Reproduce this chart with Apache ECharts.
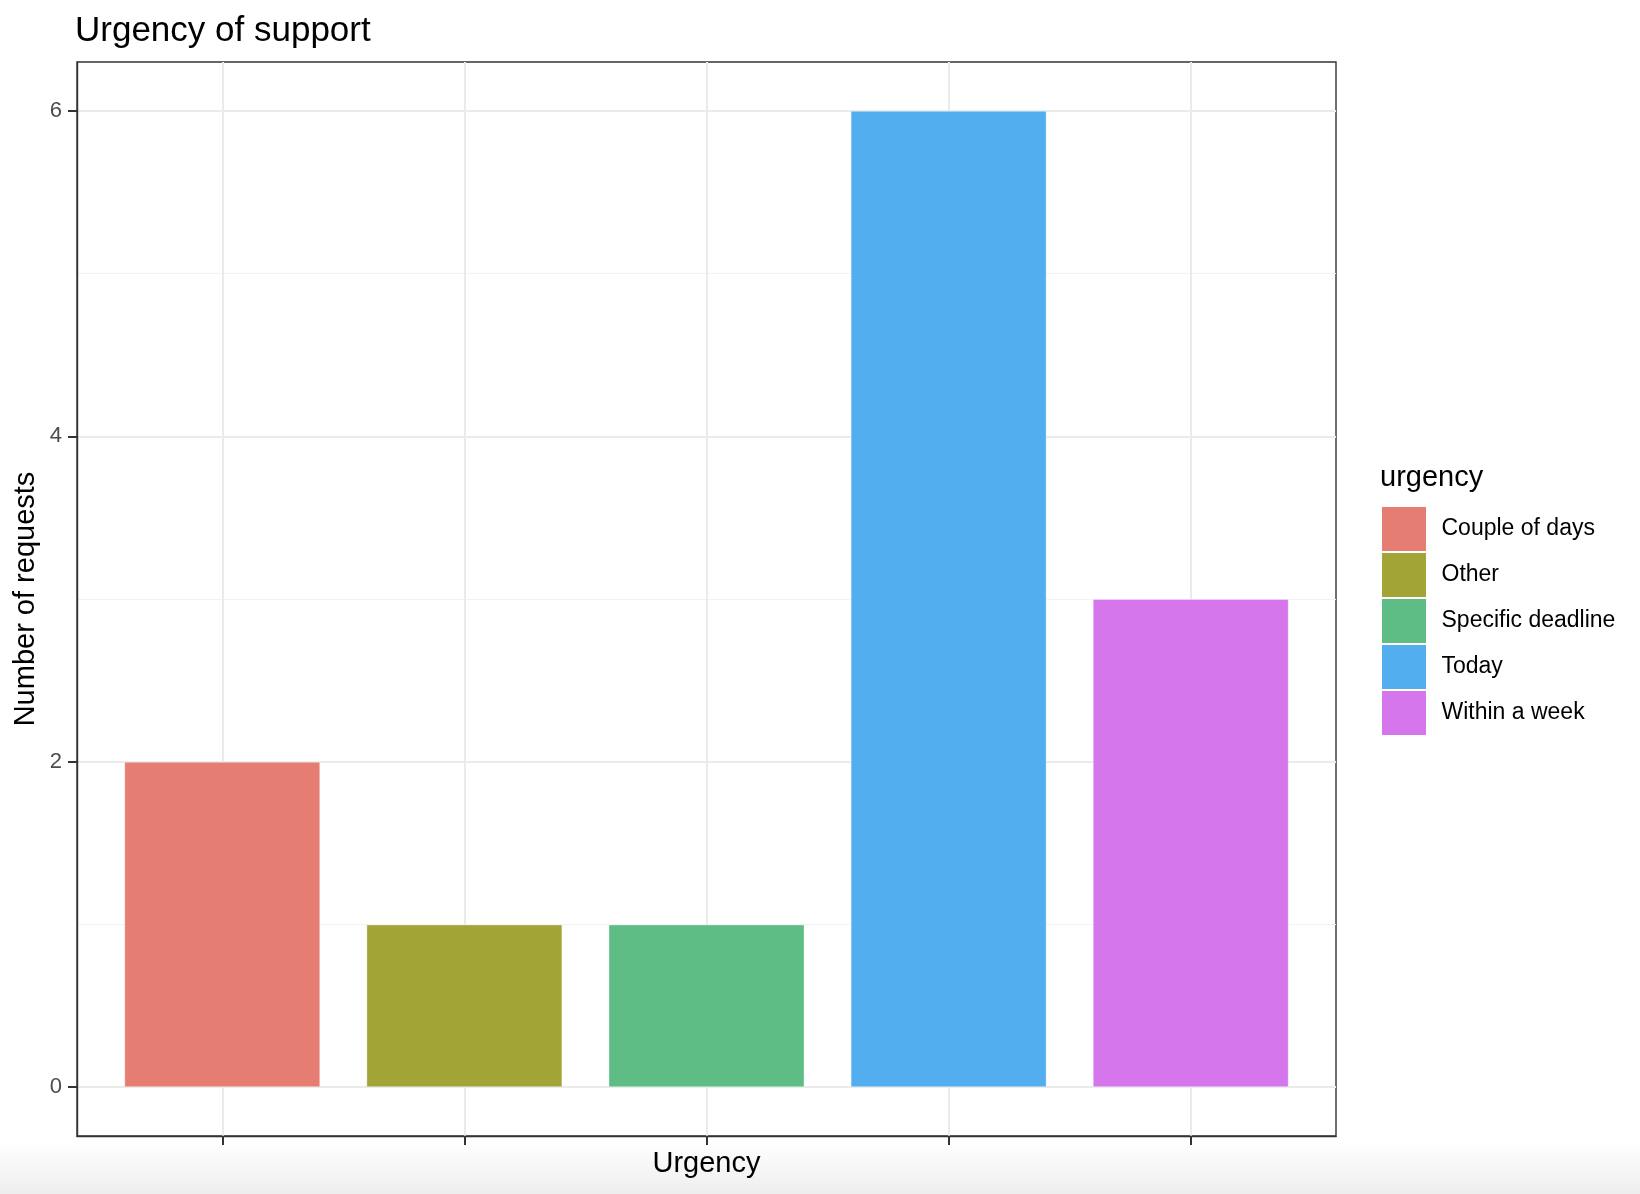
<!DOCTYPE html>
<html>
<head>
<meta charset="utf-8">
<script src="https://cdn.jsdelivr.net/npm/echarts@6/dist/echarts.min.js"></script>
<style>
  html, body { margin: 0; padding: 0; background: #ffffff; }
  #chart { width: 1640px; height: 1194px; }
</style>
</head>
<body>
<div id="chart"></div>
<script>
// Data
const categories = ['Couple of days', 'Other', 'Specific deadline', 'Today', 'Within a week'];
const requestCounts = [2, 1, 1, 6, 3];
const yMajorTicks = [0, 2, 4, 6];
const yMinorTicks = [1, 3, 5];
const xTickPositions = [0, 1, 2, 3, 4];

// ggplot default hue palette
const palette = ['#E67D72', '#A3A436', '#5DBD84', '#53AEF0', '#D576EC'];

const FONT = '"Liberation Sans", Arial, Helvetica, sans-serif';

const chart = echarts.init(document.getElementById('chart'), null, { renderer: 'canvas' });

// One series per category so the legend lists every urgency level
const series = categories.map(function (name, i) {
    return {
        name: name,
        type: 'bar',
        barWidth: 196,
        barGap: '-100%',
        itemStyle: {
            color: palette[i],
            borderColor: 'rgba(255,255,255,0.35)',
            borderWidth: 1
        },
        emphasis: { disabled: true },
        data: [[i, requestCounts[i]]]
    };
});

const option = {
    backgroundColor: '#ffffff',
    animation: false,
    color: palette,
    title: {
        text: 'Urgency of support',
        left: 75,
        top: 14,
        padding: 0,
        textStyle: {
            fontFamily: FONT,
            fontSize: 35,
            fontWeight: 'normal',
            color: '#000000'
        }
    },
    legend: {
        orient: 'vertical',
        left: 1381,
        top: 506,
        padding: 0,
        itemWidth: 45,
        itemHeight: 45,
        itemGap: 0,
        icon: 'rect',
        selectedMode: false,
        data: categories,
        itemStyle: { borderColor: '#ffffff', borderWidth: 1 },
        textStyle: {
            fontFamily: FONT,
            fontSize: 23,
            color: '#000000',
            padding: [0, 0, 0, 10]
        }
    },
    graphic: [
        {
            type: 'text',
            left: 1380,
            top: 463,
            style: {
                text: 'urgency',
                font: '29px ' + FONT,
                fill: '#000000'
            }
        },
        {
            // soft grey fade along the bottom edge of the screenshot
            type: 'rect',
            left: 0,
            top: 1140,
            z: -10,
            silent: true,
            shape: { width: 1640, height: 54 },
            style: {
                fill: new echarts.graphic.LinearGradient(0, 0, 0, 1, [
                    { offset: 0, color: '#ffffff' },
                    { offset: 1, color: '#eeeeee' }
                ])
            }
        }
    ],
    grid: {
        left: 77,
        top: 62,
        width: 1259,
        height: 1074,
        show: true,
        backgroundColor: 'transparent',
        borderColor: '#333333',
        borderWidth: 1.4
    },
    xAxis: {
        type: 'value',
        min: -0.6,
        max: 4.6,
        name: 'Urgency',
        nameLocation: 'middle',
        nameGap: 13,
        nameTextStyle: {
            fontFamily: FONT,
            fontSize: 29,
            color: '#000000',
            verticalAlign: 'top'
        },
        axisLine: { show: true, onZero: false, lineStyle: { color: '#333333', width: 1.4 } },
        axisTick: {
            show: true,
            length: 9,
            customValues: xTickPositions,
            lineStyle: { color: '#333333', width: 2 }
        },
        axisLabel: { show: false, customValues: xTickPositions },
        splitLine: { show: true, lineStyle: { color: '#EBEBEB', width: 2 } }
    },
    yAxis: [
        {
            type: 'value',
            min: -0.3,
            max: 6.3,
            name: 'Number of requests',
            nameLocation: 'middle',
            nameRotate: 90,
            nameGap: 37,
            nameMoveOverlap: false,
            nameTextStyle: {
                fontFamily: FONT,
                fontSize: 29,
                color: '#000000'
            },
            axisLine: { show: true, onZero: false, lineStyle: { color: '#333333', width: 1.4 } },
            axisTick: {
                show: true,
                length: 9,
                customValues: yMajorTicks,
                lineStyle: { color: '#333333', width: 2 }
            },
            axisLabel: {
                customValues: yMajorTicks,
                margin: 15,
                fontFamily: FONT,
                fontSize: 22,
                color: '#4D4D4D'
            },
            splitLine: { show: true, lineStyle: { color: '#EBEBEB', width: 2 } }
        },
        {
            // minor grid lines only
            type: 'value',
            min: -0.3,
            max: 6.3,
            position: 'left',
            axisLine: { show: false, onZero: false },
            axisTick: { show: false, customValues: yMinorTicks },
            axisLabel: { show: false, customValues: yMinorTicks },
            splitLine: { show: true, lineStyle: { color: '#F2F2F2', width: 1 } }
        }
    ],
    series: series
};

chart.setOption(option);
</script>
</body>
</html>
